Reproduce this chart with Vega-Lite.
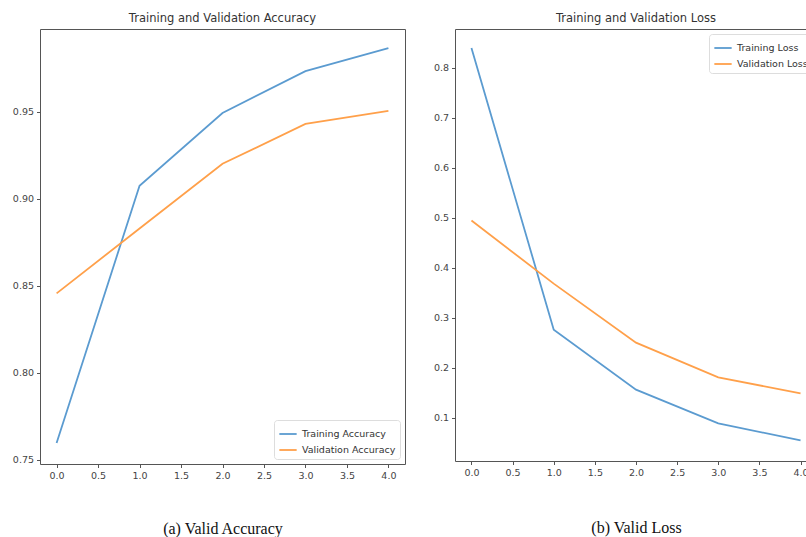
{
  "$schema": "https://vega.github.io/schema/vega-lite/v6.json",
  "padding": {"left": 11, "top": 12, "right": 0, "bottom": 0},
  "background": "white",
  "spacing": 50,
  "bounds": "flush",
  "config": {
    "font": "DejaVu Sans",
    "view": {"stroke": "#555", "strokeWidth": 1},
    "axis": {"domain": false, "grid": false, "tickColor": "#555", "tickSize": 3.5, "labelColor": "#444", "labelFontSize": 9.5, "labelFont": "DejaVu Sans", "labelPadding": 3},
    "title": {"font": "DejaVu Sans", "fontSize": 11.5, "fontWeight": "normal", "color": "#333", "offset": 5},
    "legend": {"labelFont": "DejaVu Sans", "labelFontSize": 9.5, "labelColor": "#333", "symbolType": "stroke", "symbolSize": 300, "symbolStrokeWidth": 1.8, "strokeColor": "#ddd", "fillColor": "white", "cornerRadius": 3, "padding": 4, "rowPadding": 1, "title": null}
  },
  "datasets": {
    "acc": [
      {"epoch": 0, "value": 0.7597, "series": "Training Accuracy"},
      {"epoch": 1, "value": 0.9076, "series": "Training Accuracy"},
      {"epoch": 2, "value": 0.9494, "series": "Training Accuracy"},
      {"epoch": 3, "value": 0.9735, "series": "Training Accuracy"},
      {"epoch": 4, "value": 0.9867, "series": "Training Accuracy"},
      {"epoch": 0, "value": 0.8457, "series": "Validation Accuracy"},
      {"epoch": 1, "value": 0.883, "series": "Validation Accuracy"},
      {"epoch": 2, "value": 0.9202, "series": "Validation Accuracy"},
      {"epoch": 3, "value": 0.9431, "series": "Validation Accuracy"},
      {"epoch": 4, "value": 0.9506, "series": "Validation Accuracy"}
    ],
    "loss": [
      {"epoch": 0, "value": 0.839, "series": "Training Loss"},
      {"epoch": 1, "value": 0.276, "series": "Training Loss"},
      {"epoch": 2, "value": 0.156, "series": "Training Loss"},
      {"epoch": 3, "value": 0.0886, "series": "Training Loss"},
      {"epoch": 4, "value": 0.0547, "series": "Training Loss"},
      {"epoch": 0, "value": 0.494, "series": "Validation Loss"},
      {"epoch": 1, "value": 0.368, "series": "Validation Loss"},
      {"epoch": 2, "value": 0.25, "series": "Validation Loss"},
      {"epoch": 3, "value": 0.1805, "series": "Validation Loss"},
      {"epoch": 4, "value": 0.1487, "series": "Validation Loss"}
    ]
  },
  "hconcat": [
    {
      "width": 365,
      "height": 435,
      "title": "Training and Validation Accuracy",
      "data": {"name": "acc"},
      "mark": {"type": "line", "strokeWidth": 1.8, "clip": true},
      "encoding": {
        "x": {"field": "epoch", "type": "quantitative", "scale": {"domain": [-0.2, 4.2], "nice": false, "zero": false},
          "axis": {"values": [0, 0.5, 1, 1.5, 2, 2.5, 3, 3.5, 4], "format": ".1f", "title": "(a) Valid Accuracy", "titleFont": "Liberation Serif", "titleFontSize": 16, "titleFontWeight": "normal", "titleColor": "#111", "titlePadding": 40}},
        "y": {"field": "value", "type": "quantitative", "scale": {"domain": [0.7476, 0.9977], "nice": false, "zero": false},
          "axis": {"values": [0.75, 0.8, 0.85, 0.9, 0.95], "format": ".2f", "title": null}},
        "color": {"field": "series", "type": "nominal", "scale": {"domain": ["Training Accuracy", "Validation Accuracy"], "range": ["#5b9bd0", "#ffa04a"]},
          "legend": {"orient": "bottom-right", "offset": 5}}
      }
    },
    {
      "width": 362,
      "height": 432,
      "title": "Training and Validation Loss",
      "data": {"name": "loss"},
      "mark": {"type": "line", "strokeWidth": 1.8, "clip": true},
      "encoding": {
        "x": {"field": "epoch", "type": "quantitative", "scale": {"domain": [-0.2, 4.2], "nice": false, "zero": false},
          "axis": {"values": [0, 0.5, 1, 1.5, 2, 2.5, 3, 3.5, 4], "format": ".1f", "title": "(b) Valid Loss", "titleFont": "Liberation Serif", "titleFontSize": 16, "titleFontWeight": "normal", "titleColor": "#111", "titlePadding": 42}},
        "y": {"field": "value", "type": "quantitative", "scale": {"domain": [0.0134, 0.877], "nice": false, "zero": false},
          "axis": {"values": [0.1, 0.2, 0.3, 0.4, 0.5, 0.6, 0.7, 0.8], "format": ".1f", "title": null}},
        "color": {"field": "series", "type": "nominal", "scale": {"domain": ["Training Loss", "Validation Loss"], "range": ["#5b9bd0", "#ffa04a"]},
          "legend": {"orient": "top-right", "offset": 5}}
      }
    }
  ],
  "resolve": {"scale": {"color": "independent"}}
}
